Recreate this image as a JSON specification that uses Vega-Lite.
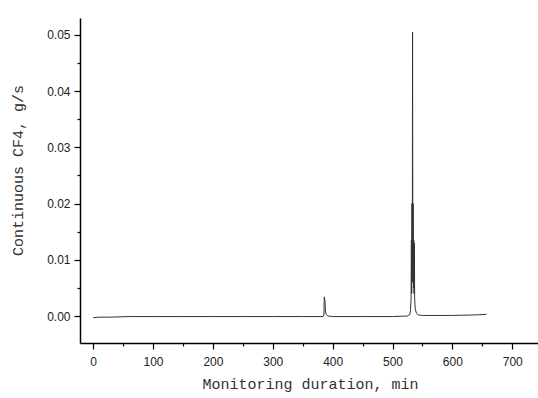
{
  "$schema": "https://vega.github.io/schema/vega-lite/v6.json",
  "width": 458,
  "height": 325,
  "autosize": {"type": "none"},
  "padding": {"left": 80, "top": 18, "right": 0, "bottom": 55},
  "background": "white",
  "config": {"view": {"stroke": null}},
  "data": {"values": [
    {"t": 0, "v": -0.0003},
    {"t": 10, "v": -0.0002},
    {"t": 30, "v": -0.0002},
    {"t": 60, "v": -0.0001},
    {"t": 100, "v": -0.0001},
    {"t": 150, "v": -0.0001},
    {"t": 200, "v": -0.0001},
    {"t": 250, "v": -0.0001},
    {"t": 300, "v": -0.0001},
    {"t": 350, "v": -0.0001},
    {"t": 384, "v": -0.0001},
    {"t": 385.5, "v": 0.0002},
    {"t": 386, "v": 0.0034},
    {"t": 387, "v": 0.0028},
    {"t": 388, "v": 0.0009},
    {"t": 389, "v": 0.0003},
    {"t": 392, "v": 0.0000},
    {"t": 400, "v": -0.0001},
    {"t": 450, "v": -0.0001},
    {"t": 500, "v": -0.0001},
    {"t": 525, "v": 0.0000},
    {"t": 529, "v": 0.0003},
    {"t": 530, "v": 0.0010},
    {"t": 531, "v": 0.0030},
    {"t": 531.5, "v": 0.0135},
    {"t": 532, "v": 0.0040},
    {"t": 532.5, "v": 0.0200},
    {"t": 533, "v": 0.0060},
    {"t": 533.5, "v": 0.0505},
    {"t": 534, "v": 0.0080},
    {"t": 534.5, "v": 0.0200},
    {"t": 535, "v": 0.0050},
    {"t": 535.5, "v": 0.0135},
    {"t": 536, "v": 0.0040},
    {"t": 536.5, "v": 0.0130},
    {"t": 537, "v": 0.0030},
    {"t": 538, "v": 0.0012},
    {"t": 540, "v": 0.0005},
    {"t": 543, "v": 0.0002},
    {"t": 550, "v": 0.0001},
    {"t": 600, "v": 0.0001},
    {"t": 640, "v": 0.0002},
    {"t": 657, "v": 0.0003}
  ]},
  "mark": {"type": "line", "color": "#333333", "strokeWidth": 1, "clip": true},
  "encoding": {
    "x": {
      "field": "t", "type": "quantitative",
      "scale": {"domain": [-22, 743], "nice": false, "zero": false},
      "axis": {
        "title": "Monitoring duration, min",
        "values": [0, 50, 100, 150, 200, 250, 300, 350, 400, 450, 500, 550, 600, 650, 700],
        "labelExpr": "datum.value % 100 == 0 ? datum.label : ''",
        "tickSize": {"condition": {"test": "datum.value % 100 == 0", "value": 6}, "value": 3},
        "grid": false,
        "domainColor": "#000000", "domainWidth": 1.5,
        "tickColor": "#000000", "tickWidth": 1.2,
        "labelFont": "Liberation Sans", "labelFontSize": 12, "labelColor": "#222222",
        "labelPadding": 7,
        "titleFont": "Liberation Mono", "titleFontSize": 15, "titleFontWeight": "normal", "titleColor": "#333333",
        "titleX": 230, "titleY": 40, "titleBaseline": "middle", "titleAlign": "center"
      }
    },
    "y": {
      "field": "v", "type": "quantitative",
      "scale": {"domain": [-0.0048, 0.053], "nice": false, "zero": false},
      "axis": {
        "title": "Continuous CF4, g/s",
        "values": [0, 0.005, 0.01, 0.015, 0.02, 0.025, 0.03, 0.035, 0.04, 0.045, 0.05],
        "format": ".2f",
        "labelExpr": "round(datum.value * 1000) % 10 == 0 ? datum.label : ''",
        "tickSize": {"condition": {"test": "round(datum.value * 1000) % 10 == 0", "value": 6}, "value": 3},
        "grid": false,
        "domainColor": "#000000", "domainWidth": 1.5,
        "tickColor": "#000000", "tickWidth": 1.2,
        "labelFont": "Liberation Sans", "labelFontSize": 12, "labelColor": "#222222",
        "labelPadding": 4,
        "titleFont": "Liberation Mono", "titleFontSize": 15, "titleFontWeight": "normal", "titleColor": "#333333",
        "titleX": -63, "titleY": 152, "titleAngle": -90, "titleBaseline": "middle", "titleAlign": "center"
      }
    }
  }
}
